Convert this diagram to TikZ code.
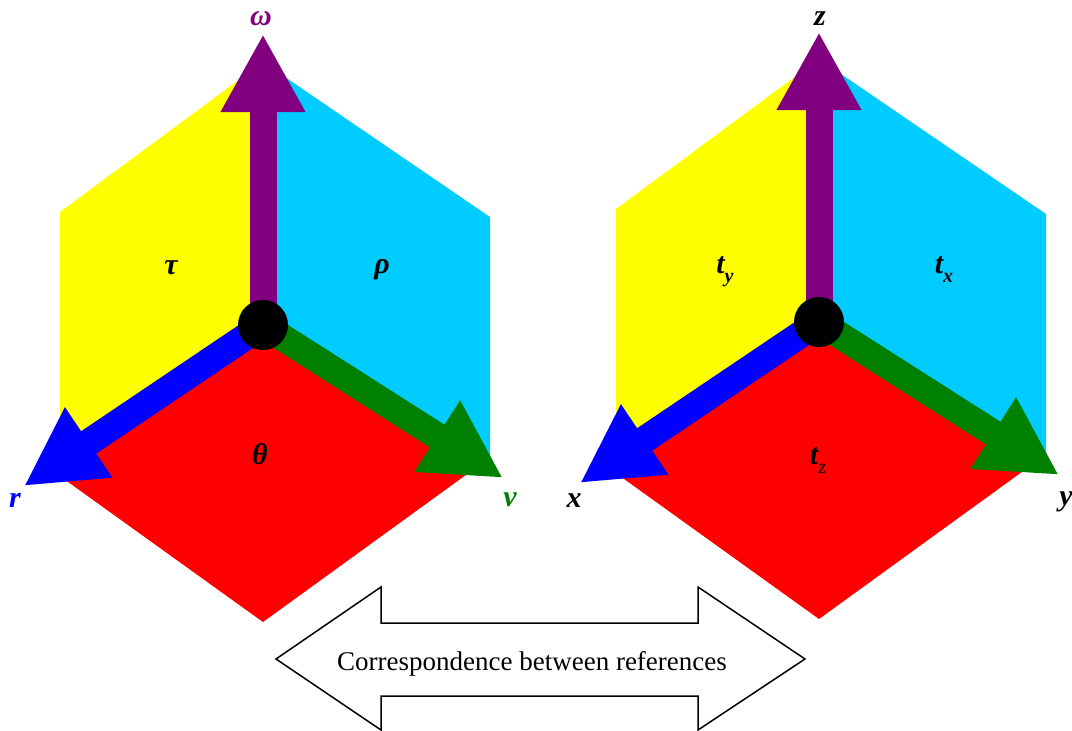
\documentclass[tikz,border=0pt]{standalone}
\usepackage{fontspec}
\setmainfont{Liberation Serif}
\usetikzlibrary{arrows.meta,positioning}
\definecolor{facey}{HTML}{FFFF00}
\definecolor{facec}{HTML}{00CCFF}
\definecolor{facer}{HTML}{FF0000}
\definecolor{axisr}{HTML}{0000FF}
\definecolor{axisv}{HTML}{008000}
\definecolor{axisw}{HTML}{800080}
\newcommand{\subl}[1]{\raisebox{-0.3em}{\fontsize{20}{20}\selectfont #1}}

\begin{document}
\begin{tikzpicture}[x=1pt,y=-1pt,
  axis/.style={line width=27pt,-{Triangle[length=78pt,width=79pt]}},
  origin/.style={circle,fill=black,minimum size=50pt,inner sep=0pt},
  lbl/.style={font=\fontsize{30}{30}\selectfont\bfseries\itshape}]
  \useasboundingbox (0,0) rectangle (1072,731);

  % Left frame: omega, r, v
  \fill[facey] (60,212) -- (263,62) -- (263,325) -- (60,462) -- cycle;
  \fill[facec] (263,62) -- (490,217) -- (490,470) -- (263,325) -- cycle;
  \fill[facer] (263,325) -- (50,469) -- (263,622) -- (481,464) -- cycle;
  \coordinate (o1) at (263,325);
  \coordinate (w1) at (263,34);
  \coordinate (r1) at (24,486);
  \coordinate (v1) at (503,478);
  \draw[axis,axisw] (o1) -- (w1);
  \draw[axis,axisr] (o1) -- (r1);
  \draw[axis,axisv] (o1) -- (v1);
  \node[origin] (dot1) at (o1) {};
  \node[lbl,axisw] (lw) at (261,19) {ω};
  \node[lbl] (ltau) at (171,268) {τ};
  \node[lbl] (lrho) at (382,270) {ρ};
  \node[lbl] (ltheta) at (260,454) {θ};
  \node[lbl,axisr] (lr) at (15,500) {r};
  \node[lbl,axisv] (lv) at (510,500) {v};

  % Right frame: x, y, z
  \begin{scope}[shift={(556,-3)}]
    \fill[facey] (60,212) -- (263,62) -- (263,325) -- (60,462) -- cycle;
    \fill[facec] (263,62) -- (490,217) -- (490,470) -- (263,325) -- cycle;
    \fill[facer] (263,325) -- (50,469) -- (263,622) -- (481,464) -- cycle;
    \coordinate (o2) at (263,325);
    \coordinate (w2) at (263,35);
    \coordinate (r2) at (24,486);
    \coordinate (v2) at (503,478);
    \draw[axis,axisw] (o2) -- (w2);
    \draw[axis,axisr] (o2) -- (r2);
    \draw[axis,axisv] (o2) -- (v2);
    \node[origin] (dot2) at (o2) {};
  \end{scope}
  \node[lbl] (lz) at (820,19) {z};
  \node[lbl] (lty) at (725,272) {t\subl{y}};
  \node[lbl] (ltx) at (944,270) {t\subl{x}};
  \node[lbl] (ltz) at (818,461) {t\subl{\mdseries z}};
  \node[lbl] (lx) at (574,501) {x};
  \node[lbl] (ly) at (1066,502) {y};

  % correspondence arrow
  \draw[line width=1.5pt,fill=white,line join=miter]
    (276,659) -- (381,587) -- (381,623) -- (698,623) -- (698,587) -- (805,659)
    -- (698,730) -- (698,696) -- (381,696) -- (381,730) -- cycle;
  \node[font=\fontsize{27}{27}\selectfont] (corr) at (532,664) {Correspondence between references};
\end{tikzpicture}
\end{document}
